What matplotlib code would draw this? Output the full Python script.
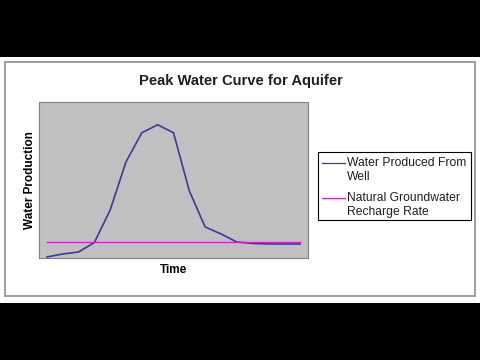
import matplotlib
matplotlib.use("Agg")
from matplotlib import pyplot as plt
from matplotlib.patches import Rectangle
from matplotlib.lines import Line2D

plt.rcParams['font.family'] = ['Liberation Sans', 'DejaVu Sans']

# time steps (categories) and water produced from the well
time_steps = list(range(17))
water_produced = [1, 4, 6, 15.5, 48, 96, 125, 133, 125, 67, 31, 24, 16, 14.5, 14, 14, 14]
# natural groundwater recharge rate (constant)
recharge_rate = [16] * len(time_steps)

series_labels = ["Water Produced From\nWell", "Natural Groundwater\nRecharge Rate"]
curve_color = '#3b3b9a'
recharge_color = '#d020d0'

fig = plt.figure(figsize=(4.8, 3.6), dpi=100)
fig.patch.set_facecolor('black')

# white chart band between the black letterbox bars
fig.patches.append(Rectangle((0, 0.1583), 1, 0.6834, transform=fig.transFigure,
                             facecolor='white', edgecolor='none', zorder=-2))
# chart border
fig.patches.append(Rectangle((0.0094, 0.1778), 0.9802, 0.65, transform=fig.transFigure,
                             facecolor='none', edgecolor='#8c8c8c', linewidth=1.2, zorder=-1))

ax = fig.add_axes([0.08125, 0.2833, 0.5604, 0.4342])
ax.set_zorder(2)
ax.set_facecolor('#c0c0c0')
ax.plot(time_steps, water_produced, color=curve_color, linewidth=1.2)
ax.plot(time_steps, recharge_rate, color=recharge_color, linewidth=0.9)
ax.set_xlim(-0.5, len(time_steps) - 0.5)
ax.set_ylim(0, 156)
ax.set_xticks([])
ax.set_yticks([])
for s in ax.spines.values():
    s.set_color('#808080')
    s.set_linewidth(0.8)

ax.set_xlabel("Time", fontsize=8.5, fontweight='bold', labelpad=4)
ax.set_ylabel("Water Production", fontsize=8.5, fontweight='bold', labelpad=2)

fig.text(0.502, 0.776, "Peak Water Curve for Aquifer", ha='center', va='center',
         fontsize=10.6, fontweight='bold', color='#202020')

# legend drawn by hand so the line sits next to the first text row
fig.patches.append(Rectangle((0.6625, 1 - 220 / 360), 0.319, 68 / 360, transform=fig.transFigure,
                             facecolor='white', edgecolor='black', linewidth=0.8, zorder=2))
rows = [(163 / 360, curve_color), (198 / 360, recharge_color)]
for (yy, col), lab in zip(rows, series_labels):
    y = 1 - yy
    fig.lines.append(Line2D([322 / 480, 345 / 480], [y, y], transform=fig.transFigure,
                            color=col, linewidth=0.9, zorder=3))
    fig.text(347 / 480, y + 0.017, lab, ha='left', va='top', fontsize=8.7,
             color='#202020', linespacing=1.2, zorder=3)

fig.savefig("out.png", dpi=100, facecolor=fig.get_facecolor())
